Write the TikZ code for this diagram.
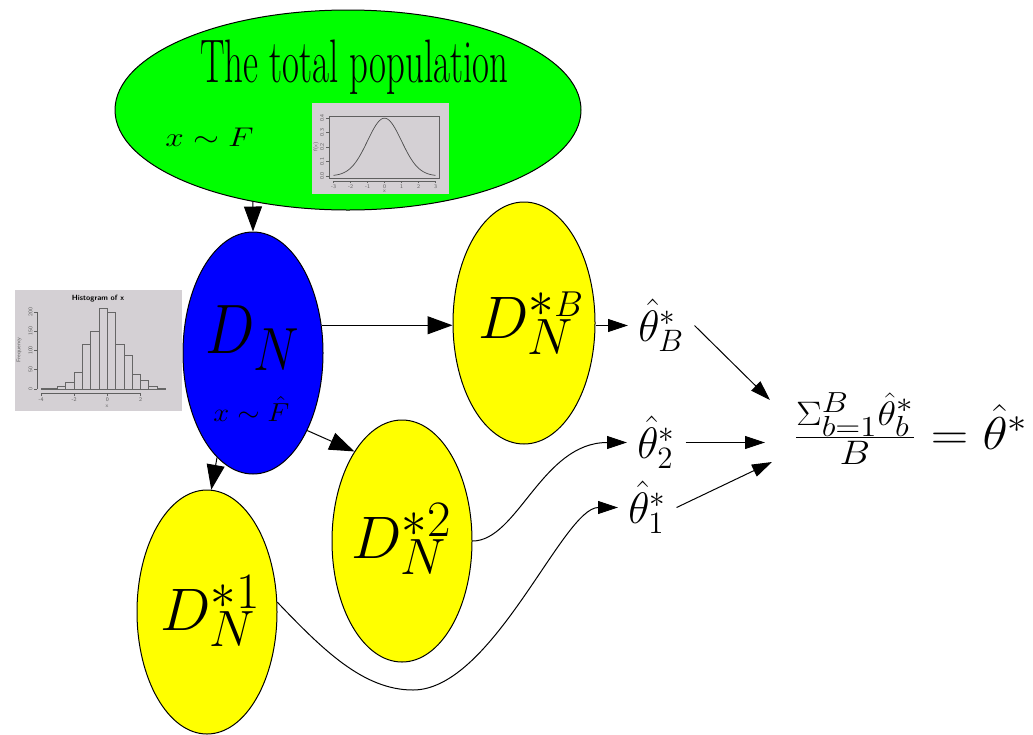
\RequirePackage{fix-cm}
\documentclass[tikz,border=0pt]{standalone}
\usepackage{graphicx}
\usetikzlibrary{arrows.meta,shapes.geometric,calc}
\DeclareMathSizes{35}{35}{30.5}{22}
\DeclareMathSizes{30}{30}{25.5}{18}
\DeclareMathSizes{22}{22}{15.5}{11}
\DeclareMathSizes{23}{23}{17}{14.5}
\definecolor{pgreen}{RGB}{0,255,0}
\definecolor{pblue}{RGB}{0,0,255}
\definecolor{pyellow}{RGB}{255,255,0}
\definecolor{imggray}{RGB}{212,208,212}
\definecolor{axgray}{RGB}{95,95,95}
\begin{document}
\begin{tikzpicture}[x=0.5pt,y=-0.5pt,
  blob/.style={ellipse, draw=black, line width=0.5pt, inner sep=0pt},
  big/.style={-{Triangle[length=12.5pt,width=9pt]}, line width=0.5pt},
  small/.style={-{Triangle[length=10pt,width=6.5pt]}, line width=0.5pt},
  lbl/.style={anchor=base west, inner sep=0pt},
  thnode/.style={anchor=base west, inner xsep=5pt, inner ysep=0pt, text height=15.5pt, text depth=0pt, font=\fontsize{22}{26}\selectfont},
  tinylbl/.style={font=\fontsize{2.8}{3}\selectfont\sffamily, text=axgray, inner sep=0pt},
  axline/.style={draw=axgray, line width=0.3pt},
]
\useasboundingbox (0,0) rectangle (1033,734);

% ellipses
\node[blob, fill=pgreen, minimum width=233pt, minimum height=100pt] (pop) at (348,110) {};
\node[blob, fill=pblue, minimum width=70pt, minimum height=121pt] (dn) at (253,353) {};
\node[blob, fill=pyellow, minimum width=71pt, minimum height=121pt] (db) at (524,323) {};
\node[blob, fill=pyellow, minimum width=70pt, minimum height=121pt] (d2) at (402,541) {};
\node[blob, fill=pyellow, minimum width=70pt, minimum height=122pt] (d1) at (207,612) {};

% population labels
\node[lbl, font=\fontsize{18.4}{22}\selectfont] (title) at (200,82) {\scalebox{1}[1.67]{The total population}};
\node[lbl, font=\fontsize{13.5}{16}\selectfont] (popx) at (165,146) {\scalebox{1.23}[1]{$x\sim F$}};

% normal density plot picture
\fill[imggray] (312,103) rectangle (449,194);
\draw[axline] (329,116) rectangle (439,178);
\draw[draw=black!70, line width=0.35pt, domain=-3:3, samples=61, smooth]
  plot ({384.5+17*\x},{176-57.84*exp(-0.5*(\x)*(\x))});
\foreach \v/\t [count=\i] in {0/0.0,1/0.1,2/0.2,3/0.3,4/0.4} {
  \draw[axline] (329,{176-14.5*\v}) -- (326,{176-14.5*\v});
  \node[tinylbl, rotate=90] (ny\i) at (322,{176-14.5*\v}) {\t};
}
\draw[axline] (333,181) -- (435,181);
\foreach \v [count=\i] in {-3,-2,-1,0,1,2,3} {
  \draw[axline] ({384.5+17*\v},181) -- ({384.5+17*\v},183);
  \node[tinylbl] (nx\i) at ({384.5+17*\v},186.5) {\v};
}
\node[tinylbl] (nxl) at (384.5,191) {x};
\node[tinylbl, rotate=90] (nyl) at (316,147) {f(x)};

% histogram picture
\fill[imggray] (15,290) rectangle (182,411);
\node[font=\fontsize{3.8}{4}\selectfont\sffamily\bfseries, inner sep=0pt] (htitle) at (98,299) {Histogram of x};
\foreach \c [count=\i from 0] in {1,1,6,16,42,115,150,208,200,115,87,37,21,6,1} {
  \draw[draw=black!60, line width=0.45pt] ({41+8.3*\i},389) rectangle ({41+8.3*(\i+1)},{389-0.385*\c});
}
\draw[axline] (37,312) -- (37,389);
\foreach \c [count=\i] in {0,50,100,150,200} {
  \draw[axline] (37,{389-0.385*\c}) -- (34,{389-0.385*\c});
  \node[tinylbl, rotate=90] (hy\i) at (30.5,{389-0.385*\c}) {\c};
}
\draw[axline] (41,393) -- (140.6,393);
\foreach \v [count=\i] in {-4,-2,0,2} {
  \draw[axline] ({107.4+16.6*\v},393) -- ({107.4+16.6*\v},396);
  \node[tinylbl] (hx\i) at ({107.4+16.6*\v},399.5) {\v};
}
\node[tinylbl] (hxl) at (107,406) {x};
\node[tinylbl, rotate=90] (hyl) at (19,350) {Frequency};

% sample labels
\node[lbl, font=\fontsize{35}{40}\selectfont] (dnl) at (205,353) {\scalebox{0.84}[1]{$D_N$}};
\node[lbl, font=\fontsize{13}{15}\selectfont] (dnx) at (213,421) {\scalebox{1.1}[1]{$x\sim\hat{F}$}};
\node[lbl, font=\fontsize{30}{36}\selectfont] (dbl) at (478,338) {$D_N^{*\scriptscriptstyle B}$};
\node[lbl, font=\fontsize{30}{36}\selectfont] (d2l) at (351,558) {$D_N^{*2}$};
\node[lbl, font=\fontsize{30}{36}\selectfont] (d1l) at (160,630) {$D_N^{*1}$};

% estimates
\node[thnode] (thb) at (628,341) {$\hat{\theta}^*_B$};
\node[thnode] (th2) at (627,458) {$\hat{\theta}^*_2$};
\node[thnode] (th1) at (618,523) {$\hat{\theta}^*_1$};
\node[lbl, font=\fontsize{23}{27}\selectfont] (res) at (793,449) {\scalebox{1.13}[1]{$\frac{\Sigma_{b=1}^{B}\hat{\theta}_b^*}{B} = \hat{\theta}^*$}};
\coordinate (rb) at ($(res.base west)+(-23,-49)$);
\coordinate (r2) at ($(res.base west)+(-28,-12)$);
\coordinate (r1) at ($(res.base west)+(-21,13)$);
\coordinate (low) at (413,690);

% connectors
\draw[big] (pop.224) -- (dn.north);
\draw[big] (dn.22) -- (dn.22 -| db.west);
\draw[big] (dn.-55) -- (d2.118);
\draw[big] (dn.251) -- (d1.88);
\draw[small] (thb.west -| db.east) -- (thb.west);
\draw[small] (d2.east) .. controls +(45,0) and +(-85,0) .. (th2.west);
\draw[small] (d1.8) .. controls +(45,47) and +(-50,0) .. (low) .. controls +(80,0) and +(-55,0) .. (th1.west);
\draw[small] (thb.east) -- (rb);
\draw[small] (th2.east) -- (th2.east -| r2);
\draw[small] (th1.east) -- (r1);
\end{tikzpicture}
\end{document}
